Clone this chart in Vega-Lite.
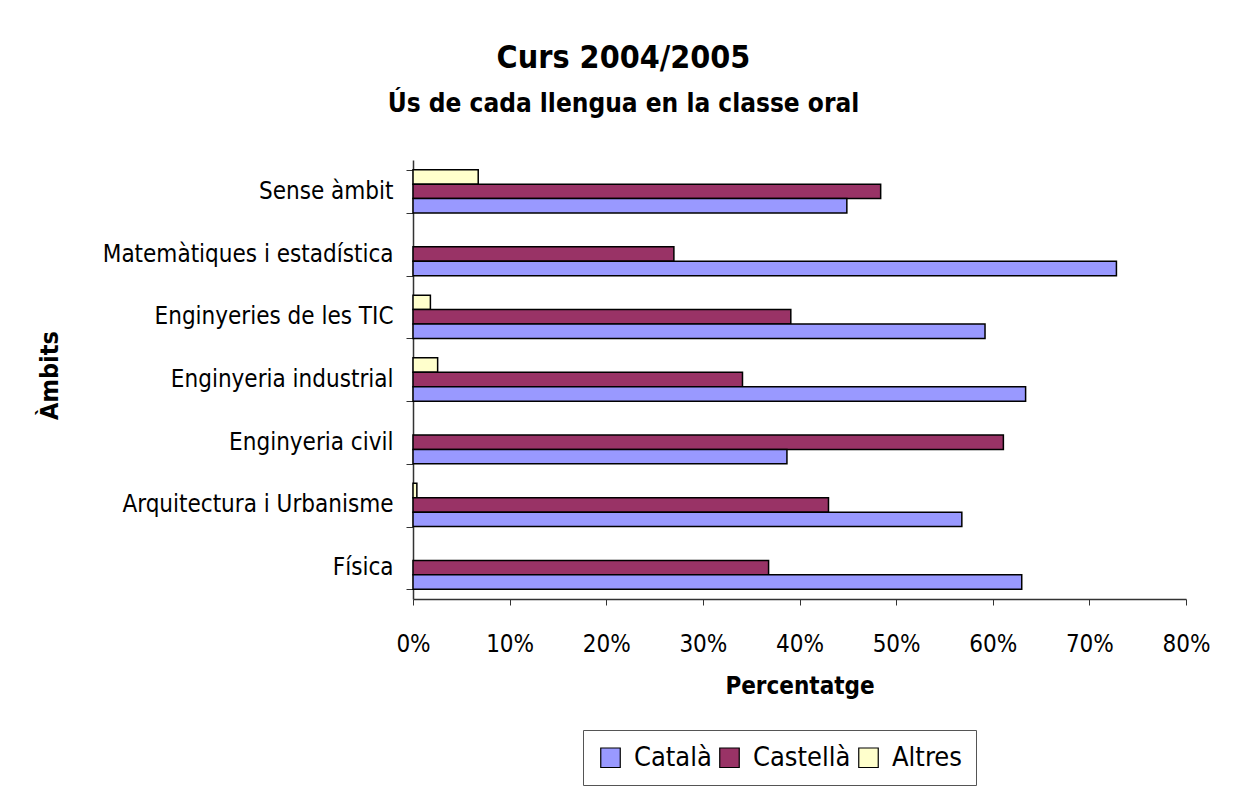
{
  "$schema": "https://vega.github.io/schema/vega-lite/v6.json",
  "autosize": "none",
  "width": 773,
  "height": 439,
  "padding": {"left": 413, "top": 160, "right": 47, "bottom": 197},
  "background": "white",
  "config": {
    "font": "DejaVu Sans Condensed, DejaVu Sans, sans-serif",
    "view": {"stroke": null}
  },
  "title": {
    "text": "Curs 2004/2005",
    "subtitle": "Ús de cada llengua en la classe oral",
    "anchor": "middle",
    "frame": "bounds",
    "fontSize": 32,
    "fontWeight": "bold",
    "color": "#000",
    "subtitleFontSize": 26,
    "subtitleFontWeight": "bold",
    "subtitleColor": "#000",
    "subtitlePadding": 16,
    "offset": 30
  },
  "data": {
    "values": [
      {"ambit": "Sense àmbit", "lang": "Altres", "value": 0.0675},
      {"ambit": "Sense àmbit", "lang": "Castellà", "value": 0.484},
      {"ambit": "Sense àmbit", "lang": "Català", "value": 0.449},
      {"ambit": "Matemàtiques i estadística", "lang": "Castellà", "value": 0.270},
      {"ambit": "Matemàtiques i estadística", "lang": "Català", "value": 0.728},
      {"ambit": "Enginyeries de les TIC", "lang": "Altres", "value": 0.018},
      {"ambit": "Enginyeries de les TIC", "lang": "Castellà", "value": 0.391},
      {"ambit": "Enginyeries de les TIC", "lang": "Català", "value": 0.592},
      {"ambit": "Enginyeria industrial", "lang": "Altres", "value": 0.0255},
      {"ambit": "Enginyeria industrial", "lang": "Castellà", "value": 0.341},
      {"ambit": "Enginyeria industrial", "lang": "Català", "value": 0.634},
      {"ambit": "Enginyeria civil", "lang": "Castellà", "value": 0.611},
      {"ambit": "Enginyeria civil", "lang": "Català", "value": 0.387},
      {"ambit": "Arquitectura i Urbanisme", "lang": "Altres", "value": 0.004},
      {"ambit": "Arquitectura i Urbanisme", "lang": "Castellà", "value": 0.430},
      {"ambit": "Arquitectura i Urbanisme", "lang": "Català", "value": 0.568},
      {"ambit": "Física", "lang": "Castellà", "value": 0.368},
      {"ambit": "Física", "lang": "Català", "value": 0.630}
    ]
  },
  "mark": {"type": "bar", "stroke": "#000", "strokeWidth": 1.5},
  "encoding": {
    "y": {
      "field": "ambit",
      "type": "nominal",
      "sort": ["Sense àmbit", "Matemàtiques i estadística", "Enginyeries de les TIC", "Enginyeria industrial", "Enginyeria civil", "Arquitectura i Urbanisme", "Física"],
      "scale": {"paddingInner": 0.31, "paddingOuter": 0.155},
      "axis": {
        "title": "Àmbits",
        "titleFontSize": 25,
        "titleFontWeight": "bold",
        "titleColor": "#000",
        "titleX": -364,
        "titleY": 215,
        "titleAngle": 270,
        "titleAlign": "center",
        "titleBaseline": "middle",
        "labelFontSize": 24,
        "labelLimit": 500,
        "labelColor": "#000",
        "labelPadding": 13,
        "tickBand": "extent",
        "tickSize": 7,
        "tickColor": "#333",
        "domainColor": "#333",
        "domainWidth": 1.5
      }
    },
    "yOffset": {
      "field": "lang",
      "type": "nominal",
      "sort": ["Altres", "Castellà", "Català"],
      "scale": {"domain": ["Altres", "Castellà", "Català"], "paddingInner": 0, "paddingOuter": 0}
    },
    "x": {
      "field": "value",
      "type": "quantitative",
      "scale": {"domain": [0, 0.8], "nice": false},
      "axis": {
        "title": "Percentatge",
        "titleFontSize": 24,
        "titleFontWeight": "bold",
        "titleColor": "#000",
        "titlePadding": 18,
        "format": "%",
        "values": [0, 0.1, 0.2, 0.3, 0.4, 0.5, 0.6, 0.7, 0.8],
        "labelFontSize": 24,
        "labelColor": "#000",
        "labelPadding": 27,
        "labelFlush": false,
        "grid": false,
        "tickSize": 6,
        "tickColor": "#333",
        "domainColor": "#333",
        "domainWidth": 1.5
      }
    },
    "fill": {
      "field": "lang",
      "type": "nominal",
      "scale": {"domain": ["Català", "Castellà", "Altres"], "range": ["#9999FF", "#993366", "#FFFFCC"]},
      "legend": {
        "title": null,
        "orient": "none",
        "direction": "horizontal",
        "legendX": 170,
        "legendY": 570,
        "strokeColor": "#555",
        "padding": 14,
        "symbolType": "square",
        "symbolSize": 380,
        "symbolStrokeColor": "#000",
        "symbolStrokeWidth": 1.2,
        "labelFontSize": 27,
        "labelColor": "#000",
        "labelOffset": 10,
        "columnPadding": 4
      }
    }
  }
}
